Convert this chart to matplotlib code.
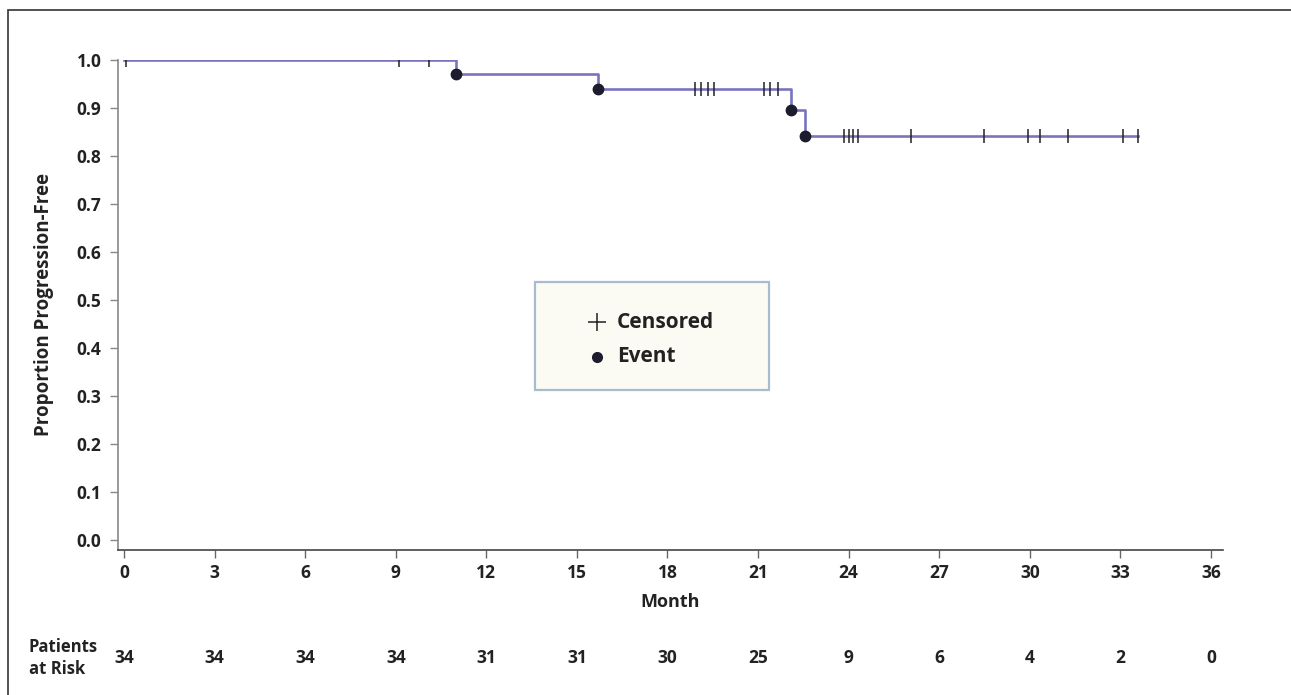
import matplotlib
matplotlib.use("Agg")
import matplotlib.pyplot as plt
from matplotlib.patches import Rectangle
from matplotlib.lines import Line2D
from matplotlib.transforms import blended_transform_factory

plt.rcParams["font.family"] = ["Open Sans", "DejaVu Sans"]
plt.rcParams["font.weight"] = "bold"

# ---------------------------
# DATA
# ---------------------------
step_times = [0, 11.0, 15.7, 22.1, 22.55, 33.6]
step_surv = [1.0, 0.970, 0.939, 0.896, 0.842, 0.842]

event_times = [11.0, 15.7, 22.1, 22.55]
event_surv = [0.970, 0.939, 0.896, 0.842]

censor_times = [0.05, 9.1, 10.1,
                18.9, 19.1, 19.35, 19.55,
                21.2, 21.4, 21.65,
                23.85, 24.0, 24.15, 24.3,
                26.05, 28.5, 29.95, 30.35, 31.25, 33.1, 33.6]

month_ticks = [0, 3, 6, 9, 12, 15, 18, 21, 24, 27, 30, 33, 36]
at_risk = [34, 34, 34, 34, 31, 31, 30, 25, 9, 6, 4, 2, 0]
y_ticks = [0.0, 0.1, 0.2, 0.3, 0.4, 0.5, 0.6, 0.7, 0.8, 0.9, 1.0]

line_color = "#7a74bf"
text_color = "#222222"
W, H = 1291, 695


def surv_at(t):
    s = step_surv[0]
    for tt, ss in zip(step_times, step_surv):
        if t >= tt:
            s = ss
    return s


fig = plt.figure(figsize=(W / 100, H / 100), dpi=100)

# outer frame (clipped at right / bottom like the reference)
fig.patches.append(Rectangle((8 / W, -0.1), 1.2, 1 - 10 / H + 0.1,
                             transform=fig.transFigure, fill=False,
                             edgecolor="#333333", linewidth=1.2))

ax = fig.add_axes([118 / W, 1 - 550 / H, (1223 - 118) / W, 490 / H])

ax.step(step_times, step_surv, where="post", color=line_color, linewidth=1.9, zorder=2)
ax.plot(event_times, event_surv, "o", color="#1c1c2c", markersize=7.5, zorder=3)
ax.plot(censor_times, [surv_at(t) for t in censor_times], "|",
        color=text_color, markersize=10.5, markeredgewidth=1.1, zorder=4)

ax.set_xlim(-0.2, 36.4)
ax.set_ylim(-0.021, 1.0)
ax.set_xticks(month_ticks)
ax.set_yticks(y_ticks)
ax.set_yticklabels([f"{v:.1f}" for v in y_ticks])
ax.tick_params(axis="both", labelsize=12.5, labelcolor=text_color, length=6,
               width=1, direction="out")
ax.tick_params(axis="y", color="#888888", pad=6)
ax.tick_params(axis="x", color="#666666", pad=4)
for lab in ax.get_xticklabels() + ax.get_yticklabels():
    lab.set_fontweight("bold")

ax.spines["top"].set_visible(False)
ax.spines["right"].set_visible(False)
ax.spines["left"].set_color("#888888")
ax.spines["left"].set_linewidth(1.2)
ax.spines["bottom"].set_color("#444444")
ax.spines["bottom"].set_linewidth(1.2)

ax.set_xlabel("Month", fontsize=13, fontweight="bold", color=text_color)
ax.set_ylabel("Proportion Progression-Free", fontsize=13.5, fontweight="bold",
              color=text_color)
ax.xaxis.set_label_coords(0.5, -0.088)
ax.yaxis.set_label_coords(-0.058, 0.5)

# legend box (manual)
bx0, by0, bx1, by1 = 535, 282, 769, 390
fig.patches.append(Rectangle((bx0 / W, 1 - by1 / H), (bx1 - bx0) / W, (by1 - by0) / H,
                             transform=fig.transFigure, facecolor="#fbfbf4",
                             edgecolor="#a9bccf", linewidth=1.6, zorder=5))
fig.lines.append(Line2D([597 / W], [1 - 322 / H], marker="+", markersize=13,
                        markeredgewidth=1.1, color=text_color,
                        transform=fig.transFigure, zorder=6))
fig.lines.append(Line2D([597 / W], [1 - 357 / H], marker="o", markersize=7,
                        color="#1c1c2c", transform=fig.transFigure, zorder=6))
fig.text(617 / W, 1 - 322 / H, "Censored", fontsize=15, fontweight="bold",
         color=text_color, va="center", ha="left", zorder=6)
fig.text(617 / W, 1 - 357 / H, "Event", fontsize=15, fontweight="bold",
         color=text_color, va="center", ha="left", zorder=6)

# patients at risk row
trans = blended_transform_factory(ax.transData, fig.transFigure)
for m, n in zip(month_ticks, at_risk):
    ax.text(m, 1 - 658 / H, str(n), transform=trans, ha="center", va="center",
            fontsize=12.5, fontweight="bold", color=text_color, clip_on=False)
fig.text(29 / W, 1 - 658 / H, "Patients\nat Risk", fontsize=12, fontweight="bold",
         color=text_color, ha="left", va="center", linespacing=1.25)

fig.savefig("out.png", dpi=100)
